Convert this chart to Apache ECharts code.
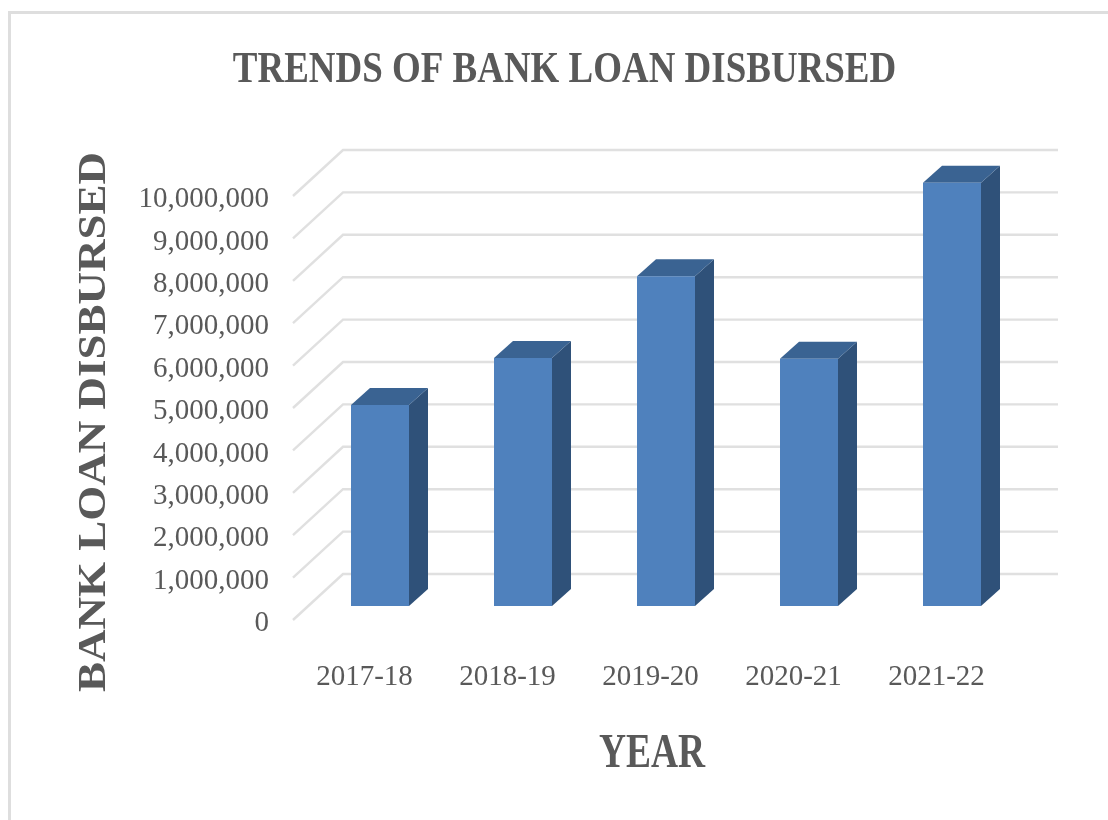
<!DOCTYPE html>
<html>
<head>
<meta charset="utf-8">
<style>html,body{margin:0;padding:0;background:#fff}#chart{width:1108px;height:820px}</style>
<script src="https://cdn.jsdelivr.net/npm/echarts@6/dist/echarts.min.js"></script>
</head>
<body>
<div id="chart"></div>
<script>
const years = ['2017-18', '2018-19', '2019-20', '2020-21', '2021-22'];
const loanDisbursed = [4740000, 5850000, 7780000, 5830000, 9980000];
const wallTicks = [0, 1000000, 2000000, 3000000, 4000000, 5000000, 6000000, 7000000, 8000000, 9000000, 10000000];

const chartTitle = 'TRENDS OF BANK LOAN DISBURSED';
const xTitle = 'YEAR';
const yTitle = 'BANK LOAN DISBURSED';

const TEXT = '#595959';
const FONT = '"Liberation Serif", serif';
const WALL = { dx: 50, dy: -46 };
const BAR = { width: 58, dx: 19, dy: -17, shiftX: 15.5, shiftY: -14 };

// Heading text squeezed or stretched along its reading direction
function heading(text, x, y, size, scaleX, rotation) {
  return {
    type: 'text',
    silent: true,
    x, y, scaleX,
    rotation: rotation || 0,
    style: {
      text,
      fill: TEXT,
      font: `bold ${size}px ${FONT}`,
      textAlign: 'center',
      textVerticalAlign: 'middle'
    }
  };
}

// Back wall rules with their diagonal run across the floor plane
function renderWall(params, api) {
  const box = params.coordSys;
  const y = api.coord([0, api.value(0)])[1];
  return {
    type: 'polyline',
    shape: { points: [[box.x, y], [box.x + WALL.dx, y + WALL.dy], [box.x + box.width + WALL.dx, y + WALL.dy]] },
    style: { stroke: '#e0e0e0', lineWidth: 2.4, fill: null }
  };
}

// Box column: front face, right side and lid
function renderColumn(params, api) {
  const top = api.coord([api.value(0), api.value(1)]);
  const base = api.coord([api.value(0), 0]);
  const l = top[0] + BAR.shiftX - BAR.width / 2;
  const r = l + BAR.width;
  const t = top[1] + BAR.shiftY;
  const b = base[1] + BAR.shiftY;
  return {
    type: 'group',
    children: [
      { type: 'polygon', shape: { points: [[r, t], [r + BAR.dx, t + BAR.dy], [r + BAR.dx, b + BAR.dy], [r, b]] }, style: { fill: '#2f5179' } },
      { type: 'polygon', shape: { points: [[l, t], [l + BAR.dx, t + BAR.dy], [r + BAR.dx, t + BAR.dy], [r, t]] }, style: { fill: '#3a6392' } },
      { type: 'rect', shape: { x: l, y: t, width: BAR.width, height: b - t }, style: { fill: '#4f81bd' } }
    ]
  };
}

const chart = echarts.init(document.getElementById('chart'), null, { renderer: 'canvas' });
chart.setOption({
  animation: false,
  backgroundColor: '#ffffff',
  graphic: [
    {
      type: 'polyline',
      silent: true,
      shape: { points: [[9.5, 820], [9.5, 12.5], [1108, 12.5]] },
      style: { stroke: '#dedede', lineWidth: 3, fill: null }
    },
    heading(chartTitle, 564.5, 71, 44, 0.84),
    heading(xTitle, 652, 755, 48, 0.78),
    heading(yTitle, 95, 422, 40, 1.125, Math.PI / 2)
  ],
  grid: { left: 293, right: 100, top: 196, bottom: 200 },
  xAxis: {
    type: 'category',
    data: years,
    axisLine: { show: false },
    axisTick: { show: false },
    axisLabel: { fontFamily: FONT, fontSize: 29, color: TEXT, margin: 43 }
  },
  yAxis: {
    type: 'value',
    min: 0,
    max: 10000000,
    interval: 1000000,
    axisLine: { show: false },
    axisTick: { show: false },
    splitLine: { show: false },
    axisLabel: {
      color: TEXT,
      margin: 24,
      formatter: v => `{tick|${v.toLocaleString('en-US')}}`,
      rich: {
        tick: { fontFamily: FONT, fontSize: 29, color: TEXT, padding: [7, 0, 0, 0] }
      }
    }
  },
  series: [
    {
      type: 'custom',
      silent: true,
      clip: false,
      z: 1,
      data: wallTicks.map(v => [v]),
      encode: { y: 0 },
      renderItem: renderWall
    },
    {
      type: 'custom',
      clip: false,
      z: 2,
      data: loanDisbursed.map((v, i) => [i, v]),
      encode: { x: 0, y: 1 },
      renderItem: renderColumn
    }
  ]
});
</script>
</body>
</html>
